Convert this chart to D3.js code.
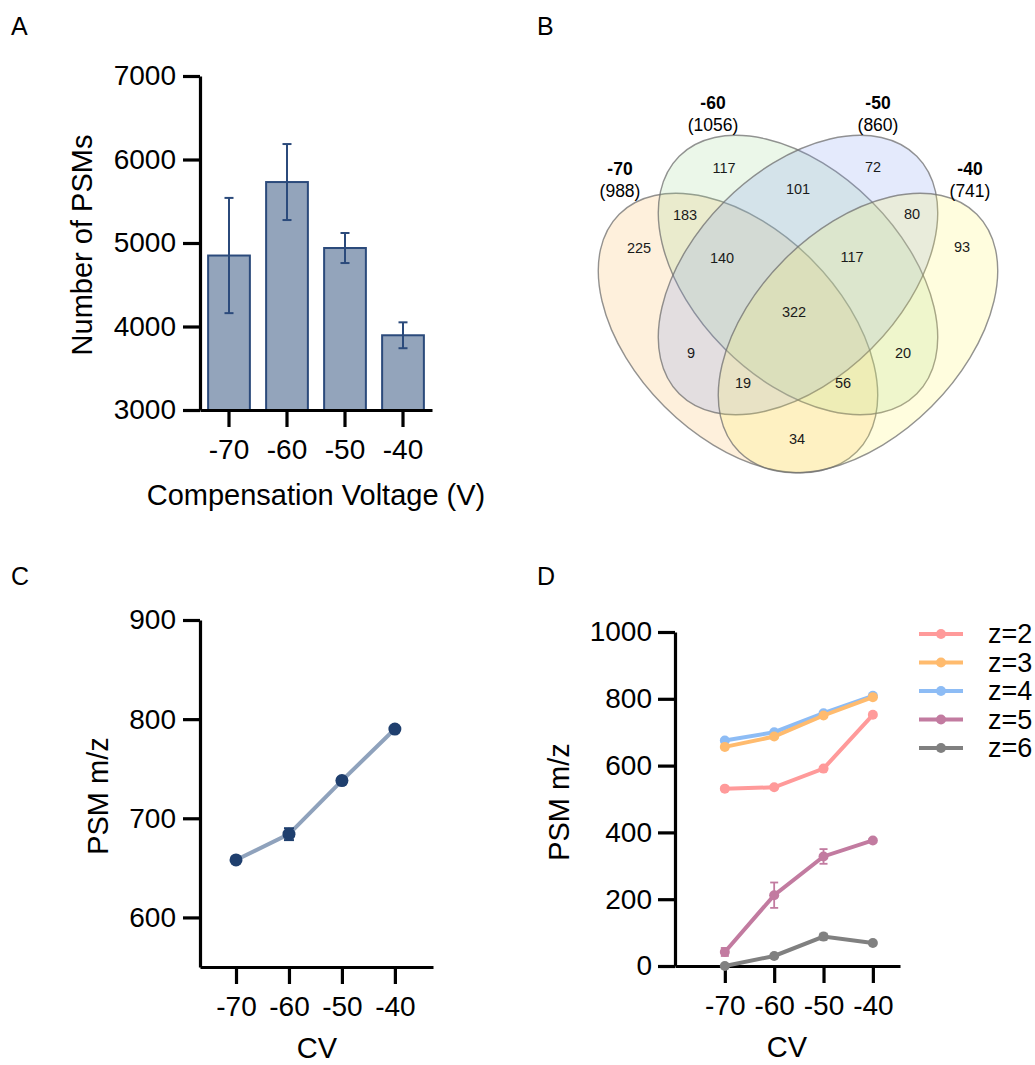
<!DOCTYPE html>
<html>
<head>
<meta charset="utf-8">
<script src="https://cdn.jsdelivr.net/npm/d3@7"></script>
<style>
  body { margin: 0; background: #fff; }
  svg { font-family: "Liberation Sans", Arial, sans-serif; }
</style>
</head>
<body>
<div id="fig"></div>
<script>
// ---- data ----
const cvLabels = ["-70", "-60", "-50", "-40"];
const cvValues = [-70, -60, -50, -40];

// A: number of PSMs per CV
const psmCounts = [4850, 5730, 4940, 3895];
const psmErrors = [690, 455, 180, 155];
const psmTicks = [3000, 4000, 5000, 6000, 7000];

// B: venn (A=-70, B=-60, C=-50, D=-40)
const vennTotals = [988, 1056, 860, 741];
const vennKeys = ["A", "B", "C", "D", "AB", "BC", "CD", "ABC", "BCD", "ABCD", "AC", "BD", "ACD", "ABD", "AD"];
const vennCounts = [225, 117, 72, 93, 183, 101, 80, 140, 117, 322, 9, 20, 19, 56, 34];

// C: mean PSM m/z
const mzMean = [658, 684, 738, 790];
const mzError = [3, 6, 3, 3];
const mzTicks = [600, 700, 800, 900];

// D: PSM m/z per charge state
const chargeNames = ["z=2", "z=3", "z=4", "z=5", "z=6"];
const z2Mean = [531, 535, 591, 752];
const z3Mean = [656, 687, 750, 805];
const z4Mean = [675, 700, 757, 809];
const z5Mean = [42, 212, 328, 376];
const z6Mean = [0, 30, 88, 69];
const z2Err = [3, 3, 3, 3];
const z3Err = [3, 3, 3, 3];
const z4Err = [3, 3, 3, 3];
const z5Err = [12, 38, 22, 4];
const z6Err = [2, 3, 9, 3];
const chargeTicks = [0, 200, 400, 600, 800, 1000];

// ---- figure ----
const svg = d3.select("#fig")
  .append("svg")
  .attr("width", 1035)
  .attr("height", 1065);

const axisWidth = 3.2;
const tickFont = 28;
const plain = d => String(d);   // keep ASCII hyphen, no thousands comma

function styleAxis(g) {
  g.selectAll("path, line").attr("stroke", "#000").attr("stroke-width", axisWidth);
  g.selectAll("text").attr("font-size", tickFont).attr("fill", "#000")
    .attr("font-family", "Liberation Sans, Arial, sans-serif");
}

function panelLabel(txt, x, y) {
  svg.append("text")
    .attr("x", x).attr("y", y)
    .attr("font-size", 25)
    .text(txt);
}

panelLabel("A", 11, 35);
panelLabel("B", 537, 35);
panelLabel("C", 11, 585);
panelLabel("D", 537, 585);

/**
 * Panel A: bars.
 */
{
  const x = d3.scaleBand()
    .domain(cvLabels)
    .range([200, 432])
    .paddingInner(0.28)
    .paddingOuter(0.14);
  const y = d3.scaleLinear()
    .domain([3000, 7000])
    .range([410, 76]);

  const g = svg.append("g");

  g.selectAll("rect.bar")
    .data(cvLabels)
    .join("rect")
    .attr("class", "bar")
    .attr("x", d => x(d))
    .attr("width", x.bandwidth())
    .attr("y", (d, i) => y(psmCounts[i]))
    .attr("height", (d, i) => y(3000) - y(psmCounts[i]))
    .attr("fill", "#93a4bb")
    .attr("stroke", "#2b4a7b")
    .attr("stroke-width", 2);

  const errColor = "#2b4a7b";
  cvLabels.forEach((d, i) => {
    const cx = x(d) + x.bandwidth() / 2;
    const top = y(psmCounts[i] + psmErrors[i]);
    const bot = y(psmCounts[i] - psmErrors[i]);
    g.append("line").attr("x1", cx).attr("x2", cx).attr("y1", top).attr("y2", bot)
      .attr("stroke", errColor).attr("stroke-width", 2);
    [top, bot].forEach(yy => g.append("line")
      .attr("x1", cx - 4.5).attr("x2", cx + 4.5).attr("y1", yy).attr("y2", yy)
      .attr("stroke", errColor).attr("stroke-width", 2));
  });

  g.append("g")
    .attr("transform", "translate(200,0)")
    .call(d3.axisLeft(y).tickValues(psmTicks).tickFormat(plain).tickSize(17).tickSizeOuter(0).tickPadding(7))
    .call(styleAxis);
  g.append("g")
    .attr("transform", "translate(0,410)")
    .call(d3.axisBottom(x).tickSize(17).tickSizeOuter(0).tickPadding(12))
    .call(styleAxis);

  g.append("text")
    .attr("transform", "translate(92,245) rotate(-90)")
    .attr("text-anchor", "middle")
    .attr("font-size", 29)
    .text("Number of PSMs");
  g.append("text")
    .attr("x", 316).attr("y", 505)
    .attr("text-anchor", "middle")
    .attr("font-size", 29)
    .text("Compensation Voltage (V)");
}

/**
 * Panel B: four-set venn.
 */
{
  const g = svg.append("g").attr("transform", "translate(798,275)");
  const rx = 168, ry = 104;

  const ellipses = [
    { cx: -60, cy: 58, rot: 45, color: "#f9b44f" },
    { cx: 0, cy: 0, rot: 45, color: "#9bd791" },
    { cx: 0, cy: 0, rot: -45, color: "#7896f0" },
    { cx: 60, cy: 58, rot: -45, color: "#fff55c" }
  ];

  g.selectAll("ellipse")
    .data(ellipses)
    .join("ellipse")
    .attr("transform", d => `translate(${d.cx},${d.cy}) rotate(${d.rot})`)
    .attr("rx", rx)
    .attr("ry", ry)
    .attr("fill", d => d.color)
    .attr("fill-opacity", 0.2)
    .attr("stroke", "#6f6f6f")
    .attr("stroke-opacity", 0.75)
    .attr("stroke-width", 1.4);

  // label anchors of each region (venn layout)
  const regionPos = {
    A: [-159, -27], B: [-74, -107], C: [75, -108], D: [164, -28],
    AB: [-113, -60], BC: [0, -86], CD: [114, -61],
    ABC: [-76, -17], BCD: [54, -18], ABCD: [-4, 37],
    AC: [-107, 78], BD: [105, 78], ACD: [-55, 108], ABD: [45, 108], AD: [-1, 164]
  };

  g.selectAll("text.count")
    .data(vennKeys)
    .join("text")
    .attr("class", "count")
    .attr("x", d => regionPos[d][0])
    .attr("y", d => regionPos[d][1])
    .attr("text-anchor", "middle")
    .attr("dominant-baseline", "central")
    .attr("font-size", 14.5)
    .attr("fill", "#1a1a1a")
    .text((d, i) => vennCounts[i]);

  const setPos = [[-178, -106], [-85, -172], [80, -172], [172, -106]];
  cvLabels.forEach((d, i) => {
    g.append("text")
      .attr("x", setPos[i][0]).attr("y", setPos[i][1])
      .attr("text-anchor", "middle")
      .attr("dominant-baseline", "central")
      .attr("font-size", 17.5)
      .attr("font-weight", "bold")
      .text(d);
    g.append("text")
      .attr("x", setPos[i][0]).attr("y", setPos[i][1] + 22)
      .attr("text-anchor", "middle")
      .attr("dominant-baseline", "central")
      .attr("font-size", 17.5)
      .text(`(${vennTotals[i]})`);
  });
}

/**
 * Panel C: mean m/z line.
 */
{
  const x = d3.scaleLinear().domain([-76.8, -32.8]).range([200, 433]);
  const y = d3.scaleLinear().domain([550, 900]).range([967, 620]);
  const g = svg.append("g");

  g.append("g")
    .attr("transform", "translate(200,0)")
    .call(d3.axisLeft(y).tickValues(mzTicks).tickFormat(plain).tickSize(17).tickSizeOuter(0).tickPadding(7))
    .call(styleAxis);
  g.append("g")
    .attr("transform", "translate(0,967)")
    .call(d3.axisBottom(x).tickValues(cvValues).tickFormat(plain).tickSize(17).tickSizeOuter(0).tickPadding(12))
    .call(styleAxis);

  const pts = cvValues.map((v, i) => [v, mzMean[i]]);
  g.append("path")
    .datum(pts)
    .attr("fill", "none")
    .attr("stroke", "#8fa2bc")
    .attr("stroke-width", 4)
    .attr("d", d3.line().x(d => x(d[0])).y(d => y(d[1])));

  cvValues.forEach((v, i) => {
    const cx = x(v);
    [mzMean[i] + mzError[i], mzMean[i] - mzError[i]].forEach(val => g.append("line")
      .attr("x1", cx - 5).attr("x2", cx + 5).attr("y1", y(val)).attr("y2", y(val))
      .attr("stroke", "#1f3f6e").attr("stroke-width", 2));
  });

  g.selectAll("circle")
    .data(pts)
    .join("circle")
    .attr("cx", d => x(d[0]))
    .attr("cy", d => y(d[1]))
    .attr("r", 6.5)
    .attr("fill", "#1f3f6e");

  g.append("text")
    .attr("transform", "translate(108,796) rotate(-90)")
    .attr("text-anchor", "middle")
    .attr("font-size", 29)
    .text("PSM m/z");
  g.append("text")
    .attr("x", 317).attr("y", 1058)
    .attr("text-anchor", "middle")
    .attr("font-size", 29)
    .text("CV");
}

/**
 * Panel D: m/z per charge state.
 */
{
  const x = d3.scaleLinear().domain([-80.1, -34.5]).range([675, 900]);
  const y = d3.scaleLinear().domain([0, 1000]).range([966, 632]);
  const g = svg.append("g");

  const color = d3.scaleOrdinal()
    .domain(chargeNames)
    .range(["#ff9a9a", "#ffbb6e", "#8dbcf5", "#c27ba0", "#808080"]);

  const series = [
    { name: "z=2", mean: z2Mean, err: z2Err },
    { name: "z=3", mean: z3Mean, err: z3Err },
    { name: "z=4", mean: z4Mean, err: z4Err },
    { name: "z=5", mean: z5Mean, err: z5Err },
    { name: "z=6", mean: z6Mean, err: z6Err }
  ];

  g.append("g")
    .attr("transform", "translate(675,0)")
    .call(d3.axisLeft(y).tickValues(chargeTicks).tickFormat(plain).tickSize(17).tickSizeOuter(0).tickPadding(6))
    .call(styleAxis);
  g.append("g")
    .attr("transform", "translate(0,966)")
    .call(d3.axisBottom(x).tickValues(cvValues).tickFormat(plain).tickSize(17).tickSizeOuter(0).tickPadding(12))
    .call(styleAxis);

  // draw bottom series first so z=3 sits over z=4
  const drawOrder = [4, 3, 2, 1, 0];
  const line = d3.line().x(d => x(d[0])).y(d => y(d[1]));

  drawOrder.forEach(k => {
    const s = series[k];
    const c = color(s.name);
    const pts = cvValues.map((v, i) => [v, s.mean[i]]);

    cvValues.forEach((v, i) => {
      const cx = x(v);
      const top = y(s.mean[i] + s.err[i]);
      const bot = y(Math.max(0, s.mean[i] - s.err[i]));
      g.append("line").attr("x1", cx).attr("x2", cx).attr("y1", top).attr("y2", bot)
        .attr("stroke", c).attr("stroke-width", 1.8);
      [top, bot].forEach(yy => g.append("line")
        .attr("x1", cx - 4).attr("x2", cx + 4).attr("y1", yy).attr("y2", yy)
        .attr("stroke", c).attr("stroke-width", 1.8));
    });

    g.append("path")
      .datum(pts)
      .attr("fill", "none")
      .attr("stroke", c)
      .attr("stroke-width", 4)
      .attr("d", line);

    g.selectAll(null)
      .data(pts)
      .join("circle")
      .attr("cx", d => x(d[0]))
      .attr("cy", d => y(d[1]))
      .attr("r", 5)
      .attr("fill", c);
  });

  // legend
  const legend = g.append("g");
  chargeNames.forEach((name, i) => {
    const ly = 634 + i * 28.5;
    legend.append("line")
      .attr("x1", 919).attr("x2", 963).attr("y1", ly).attr("y2", ly)
      .attr("stroke", color(name)).attr("stroke-width", 4);
    legend.append("circle")
      .attr("cx", 941).attr("cy", ly).attr("r", 5)
      .attr("fill", color(name));
    legend.append("text")
      .attr("x", 988).attr("y", ly)
      .attr("dy", "0.35em")
      .attr("font-size", 27)
      .text(name);
  });

  g.append("text")
    .attr("transform", "translate(569,802) rotate(-90)")
    .attr("text-anchor", "middle")
    .attr("font-size", 29)
    .text("PSM m/z");
  g.append("text")
    .attr("x", 787).attr("y", 1057)
    .attr("text-anchor", "middle")
    .attr("font-size", 29)
    .text("CV");
}
</script>
</body>
</html>
